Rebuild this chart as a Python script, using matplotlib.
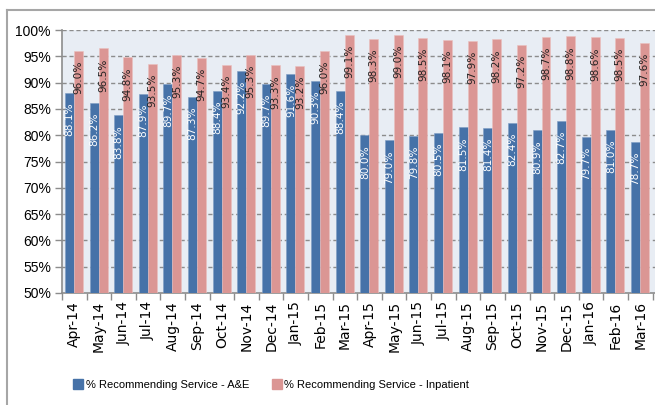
import numpy as np
import matplotlib
matplotlib.use("Agg")
import matplotlib.pyplot as plt
from matplotlib.lines import Line2D

# Data
months = ["Apr-14", "May-14", "Jun-14", "Jul-14", "Aug-14", "Sep-14", "Oct-14",
          "Nov-14", "Dec-14", "Jan-15", "Feb-15", "Mar-15", "Apr-15", "May-15",
          "Jun-15", "Jul-15", "Aug-15", "Sep-15", "Oct-15", "Nov-15", "Dec-15",
          "Jan-16", "Feb-16", "Mar-16"]
ae = [88.1, 86.2, 83.8, 87.9, 89.7, 87.3, 88.4, 92.2, 89.7, 91.6, 90.3, 88.4,
      80.0, 79.0, 79.8, 80.5, 81.5, 81.4, 82.4, 80.9, 82.7, 79.7, 81.0, 78.7]
inpatient = [96.0, 96.5, 94.8, 93.5, 95.3, 94.7, 93.4, 95.3, 93.3, 93.2, 96.0, 99.1,
             98.3, 99.0, 98.5, 98.1, 97.9, 98.2, 97.2, 98.7, 98.8, 98.6, 98.5, 97.6]
series_names = ["% Recommending Service - A&E", "% Recommending Service - Inpatient"]

BLUE = "#4672A8"
PINK = "#DB9694"
BG = "#E8EDF4"
NARROW = ["Liberation Sans", "DejaVu Sans"]

fig = plt.figure(figsize=(6.55, 4.05), dpi=100)
ax = fig.add_axes([62 / 655, 1 - 293 / 405, 1 - 62 / 655, (293 - 30) / 405])
ax.set_facecolor(BG)

x = np.arange(len(months))
w = 0.365
ax.bar(x - 0.195, ae, w, color=BLUE, edgecolor="#7E9CC4", linewidth=0.4, zorder=3)
ax.bar(x + 0.17, inpatient, w, color=PINK, edgecolor="#EBC0BF", linewidth=0.4, zorder=3)

for xi, v in zip(x, ae):
    ax.annotate(f"{v:.1f}%", (xi - 0.195, v), xytext=(0, -7), textcoords="offset points",
                rotation=90, ha="center", va="top", color="white", fontsize=7.6, zorder=4)
for xi, v in zip(x, inpatient):
    ax.annotate(f"{v:.1f}%", (xi + 0.17, v), xytext=(0, -7), textcoords="offset points",
                rotation=90, ha="center", va="top", color="#222222", fontsize=7.6, zorder=4)

ax.set_ylim(50, 100)
ax.set_xlim(-0.5, 23.6)
yt = np.arange(50, 101, 5)
ax.set_yticks(yt)
ax.set_yticklabels([f"{v}%" for v in yt], fontsize=10, family=NARROW)
for v in yt[1:]:
    ax.axhline(v, color="#8C8C8C", linestyle=(0, (3, 2)), linewidth=1.0, zorder=1)

ax.set_xticks(x)
ax.set_xticklabels(months, rotation=90, fontsize=10)
ax.set_xticks(np.arange(-0.5, 23.6, 1), minor=True)
ax.tick_params(axis="x", which="major", length=0, pad=6)
ax.tick_params(axis="x", which="minor", length=5, color="#8C8C8C", width=1)
ax.tick_params(axis="y", length=5, color="#8C8C8C", width=1, pad=3)

for s in ["top", "right"]:
    ax.spines[s].set_visible(False)
for s in ["left", "bottom"]:
    ax.spines[s].set_color("#8C8C8C")
    ax.spines[s].set_linewidth(1.2)

# outer chart border (only left and top visible in the crop)
fig.add_artist(Line2D([7 / 655, 7 / 655], [0, 1 - 10 / 405], color="#A6A6A6", lw=1.5))
fig.add_artist(Line2D([7 / 655, 1], [1 - 10 / 405, 1 - 10 / 405], color="#A6A6A6", lw=1.5))

handles = [Line2D([], [], marker="s", linestyle="none", color=BLUE, markersize=7),
           Line2D([], [], marker="s", linestyle="none", color=PINK, markersize=7)]
fig.legend(handles, series_names, loc="center", bbox_to_anchor=(272 / 655, 1 - 385 / 405),
           ncol=2, frameon=False, handlelength=0.6, handletextpad=0.35, columnspacing=2.2,
           prop={"family": NARROW, "size": 8})

fig.savefig("out.png", dpi=100)
